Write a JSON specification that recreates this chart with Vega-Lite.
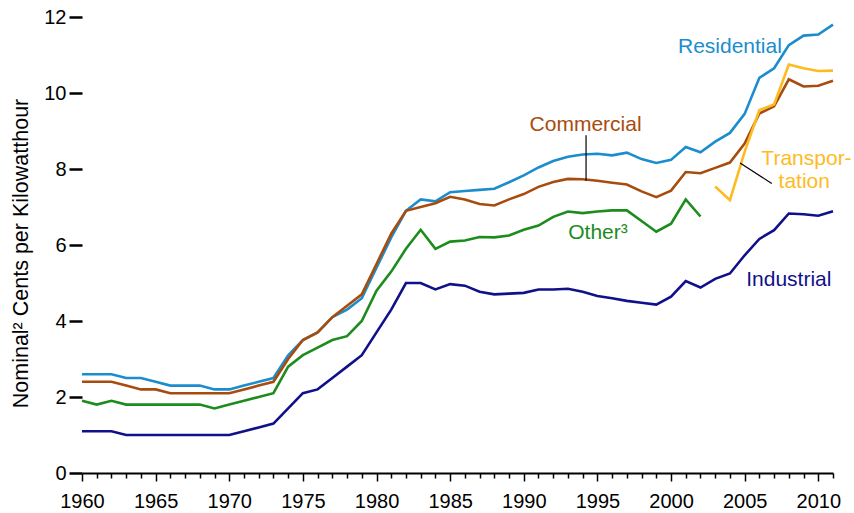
{
  "$schema": "https://vega.github.io/schema/vega-lite/v6.json",
  "width": 751,
  "height": 456,
  "autosize": "none",
  "padding": {"left": 82, "top": 17, "right": 21, "bottom": 40},
  "background": "white",
  "config": {"view": {"stroke": null}, "font": "Liberation Sans"},
  "datasets": {
    "prices": [
      {"year":1960,"sector":"Residential","value":2.6},{"year":1961,"sector":"Residential","value":2.6},{"year":1962,"sector":"Residential","value":2.6},{"year":1963,"sector":"Residential","value":2.5},{"year":1964,"sector":"Residential","value":2.5},{"year":1965,"sector":"Residential","value":2.4},{"year":1966,"sector":"Residential","value":2.3},{"year":1967,"sector":"Residential","value":2.3},{"year":1968,"sector":"Residential","value":2.3},{"year":1969,"sector":"Residential","value":2.2},{"year":1970,"sector":"Residential","value":2.2},{"year":1971,"sector":"Residential","value":2.3},{"year":1972,"sector":"Residential","value":2.4},{"year":1973,"sector":"Residential","value":2.5},{"year":1974,"sector":"Residential","value":3.1},{"year":1975,"sector":"Residential","value":3.5},{"year":1976,"sector":"Residential","value":3.7},{"year":1977,"sector":"Residential","value":4.1},{"year":1978,"sector":"Residential","value":4.3},{"year":1979,"sector":"Residential","value":4.6},{"year":1980,"sector":"Residential","value":5.4},{"year":1981,"sector":"Residential","value":6.2},{"year":1982,"sector":"Residential","value":6.9},{"year":1983,"sector":"Residential","value":7.2},{"year":1984,"sector":"Residential","value":7.15},{"year":1985,"sector":"Residential","value":7.39},{"year":1986,"sector":"Residential","value":7.42},{"year":1987,"sector":"Residential","value":7.45},{"year":1988,"sector":"Residential","value":7.48},{"year":1989,"sector":"Residential","value":7.65},{"year":1990,"sector":"Residential","value":7.83},{"year":1991,"sector":"Residential","value":8.04},{"year":1992,"sector":"Residential","value":8.21},{"year":1993,"sector":"Residential","value":8.32},{"year":1994,"sector":"Residential","value":8.38},{"year":1995,"sector":"Residential","value":8.4},{"year":1996,"sector":"Residential","value":8.36},{"year":1997,"sector":"Residential","value":8.43},{"year":1998,"sector":"Residential","value":8.26},{"year":1999,"sector":"Residential","value":8.16},{"year":2000,"sector":"Residential","value":8.24},{"year":2001,"sector":"Residential","value":8.58},{"year":2002,"sector":"Residential","value":8.44},{"year":2003,"sector":"Residential","value":8.72},{"year":2004,"sector":"Residential","value":8.95},{"year":2005,"sector":"Residential","value":9.45},{"year":2006,"sector":"Residential","value":10.4},{"year":2007,"sector":"Residential","value":10.65},{"year":2008,"sector":"Residential","value":11.26},{"year":2009,"sector":"Residential","value":11.51},{"year":2010,"sector":"Residential","value":11.54},{"year":2011,"sector":"Residential","value":11.8},
      {"year":1960,"sector":"Commercial","value":2.4},{"year":1961,"sector":"Commercial","value":2.4},{"year":1962,"sector":"Commercial","value":2.4},{"year":1963,"sector":"Commercial","value":2.3},{"year":1964,"sector":"Commercial","value":2.2},{"year":1965,"sector":"Commercial","value":2.2},{"year":1966,"sector":"Commercial","value":2.1},{"year":1967,"sector":"Commercial","value":2.1},{"year":1968,"sector":"Commercial","value":2.1},{"year":1969,"sector":"Commercial","value":2.1},{"year":1970,"sector":"Commercial","value":2.1},{"year":1971,"sector":"Commercial","value":2.2},{"year":1972,"sector":"Commercial","value":2.3},{"year":1973,"sector":"Commercial","value":2.4},{"year":1974,"sector":"Commercial","value":3.0},{"year":1975,"sector":"Commercial","value":3.5},{"year":1976,"sector":"Commercial","value":3.7},{"year":1977,"sector":"Commercial","value":4.1},{"year":1978,"sector":"Commercial","value":4.4},{"year":1979,"sector":"Commercial","value":4.7},{"year":1980,"sector":"Commercial","value":5.5},{"year":1981,"sector":"Commercial","value":6.3},{"year":1982,"sector":"Commercial","value":6.9},{"year":1983,"sector":"Commercial","value":7.0},{"year":1984,"sector":"Commercial","value":7.1},{"year":1985,"sector":"Commercial","value":7.27},{"year":1986,"sector":"Commercial","value":7.2},{"year":1987,"sector":"Commercial","value":7.08},{"year":1988,"sector":"Commercial","value":7.04},{"year":1989,"sector":"Commercial","value":7.2},{"year":1990,"sector":"Commercial","value":7.34},{"year":1991,"sector":"Commercial","value":7.53},{"year":1992,"sector":"Commercial","value":7.66},{"year":1993,"sector":"Commercial","value":7.74},{"year":1994,"sector":"Commercial","value":7.73},{"year":1995,"sector":"Commercial","value":7.69},{"year":1996,"sector":"Commercial","value":7.64},{"year":1997,"sector":"Commercial","value":7.59},{"year":1998,"sector":"Commercial","value":7.41},{"year":1999,"sector":"Commercial","value":7.26},{"year":2000,"sector":"Commercial","value":7.43},{"year":2001,"sector":"Commercial","value":7.92},{"year":2002,"sector":"Commercial","value":7.89},{"year":2003,"sector":"Commercial","value":8.03},{"year":2004,"sector":"Commercial","value":8.17},{"year":2005,"sector":"Commercial","value":8.67},{"year":2006,"sector":"Commercial","value":9.46},{"year":2007,"sector":"Commercial","value":9.65},{"year":2008,"sector":"Commercial","value":10.36},{"year":2009,"sector":"Commercial","value":10.17},{"year":2010,"sector":"Commercial","value":10.19},{"year":2011,"sector":"Commercial","value":10.32},
      {"year":1960,"sector":"Industrial","value":1.1},{"year":1961,"sector":"Industrial","value":1.1},{"year":1962,"sector":"Industrial","value":1.1},{"year":1963,"sector":"Industrial","value":1.0},{"year":1964,"sector":"Industrial","value":1.0},{"year":1965,"sector":"Industrial","value":1.0},{"year":1966,"sector":"Industrial","value":1.0},{"year":1967,"sector":"Industrial","value":1.0},{"year":1968,"sector":"Industrial","value":1.0},{"year":1969,"sector":"Industrial","value":1.0},{"year":1970,"sector":"Industrial","value":1.0},{"year":1971,"sector":"Industrial","value":1.1},{"year":1972,"sector":"Industrial","value":1.2},{"year":1973,"sector":"Industrial","value":1.3},{"year":1974,"sector":"Industrial","value":1.7},{"year":1975,"sector":"Industrial","value":2.1},{"year":1976,"sector":"Industrial","value":2.2},{"year":1977,"sector":"Industrial","value":2.5},{"year":1978,"sector":"Industrial","value":2.8},{"year":1979,"sector":"Industrial","value":3.1},{"year":1980,"sector":"Industrial","value":3.7},{"year":1981,"sector":"Industrial","value":4.3},{"year":1982,"sector":"Industrial","value":5.0},{"year":1983,"sector":"Industrial","value":5.0},{"year":1984,"sector":"Industrial","value":4.83},{"year":1985,"sector":"Industrial","value":4.97},{"year":1986,"sector":"Industrial","value":4.93},{"year":1987,"sector":"Industrial","value":4.77},{"year":1988,"sector":"Industrial","value":4.7},{"year":1989,"sector":"Industrial","value":4.72},{"year":1990,"sector":"Industrial","value":4.74},{"year":1991,"sector":"Industrial","value":4.83},{"year":1992,"sector":"Industrial","value":4.83},{"year":1993,"sector":"Industrial","value":4.85},{"year":1994,"sector":"Industrial","value":4.77},{"year":1995,"sector":"Industrial","value":4.66},{"year":1996,"sector":"Industrial","value":4.6},{"year":1997,"sector":"Industrial","value":4.53},{"year":1998,"sector":"Industrial","value":4.48},{"year":1999,"sector":"Industrial","value":4.43},{"year":2000,"sector":"Industrial","value":4.64},{"year":2001,"sector":"Industrial","value":5.05},{"year":2002,"sector":"Industrial","value":4.88},{"year":2003,"sector":"Industrial","value":5.11},{"year":2004,"sector":"Industrial","value":5.25},{"year":2005,"sector":"Industrial","value":5.73},{"year":2006,"sector":"Industrial","value":6.16},{"year":2007,"sector":"Industrial","value":6.39},{"year":2008,"sector":"Industrial","value":6.83},{"year":2009,"sector":"Industrial","value":6.81},{"year":2010,"sector":"Industrial","value":6.77},{"year":2011,"sector":"Industrial","value":6.89},
      {"year":1960,"sector":"Other","value":1.9},{"year":1961,"sector":"Other","value":1.8},{"year":1962,"sector":"Other","value":1.9},{"year":1963,"sector":"Other","value":1.8},{"year":1964,"sector":"Other","value":1.8},{"year":1965,"sector":"Other","value":1.8},{"year":1966,"sector":"Other","value":1.8},{"year":1967,"sector":"Other","value":1.8},{"year":1968,"sector":"Other","value":1.8},{"year":1969,"sector":"Other","value":1.7},{"year":1970,"sector":"Other","value":1.8},{"year":1971,"sector":"Other","value":1.9},{"year":1972,"sector":"Other","value":2.0},{"year":1973,"sector":"Other","value":2.1},{"year":1974,"sector":"Other","value":2.8},{"year":1975,"sector":"Other","value":3.1},{"year":1976,"sector":"Other","value":3.3},{"year":1977,"sector":"Other","value":3.5},{"year":1978,"sector":"Other","value":3.6},{"year":1979,"sector":"Other","value":4.0},{"year":1980,"sector":"Other","value":4.8},{"year":1981,"sector":"Other","value":5.3},{"year":1982,"sector":"Other","value":5.9},{"year":1983,"sector":"Other","value":6.4},{"year":1984,"sector":"Other","value":5.9},{"year":1985,"sector":"Other","value":6.09},{"year":1986,"sector":"Other","value":6.12},{"year":1987,"sector":"Other","value":6.21},{"year":1988,"sector":"Other","value":6.2},{"year":1989,"sector":"Other","value":6.25},{"year":1990,"sector":"Other","value":6.4},{"year":1991,"sector":"Other","value":6.51},{"year":1992,"sector":"Other","value":6.74},{"year":1993,"sector":"Other","value":6.88},{"year":1994,"sector":"Other","value":6.84},{"year":1995,"sector":"Other","value":6.88},{"year":1996,"sector":"Other","value":6.91},{"year":1997,"sector":"Other","value":6.91},{"year":1998,"sector":"Other","value":6.63},{"year":1999,"sector":"Other","value":6.35},{"year":2000,"sector":"Other","value":6.56},{"year":2001,"sector":"Other","value":7.2},{"year":2002,"sector":"Other","value":6.75},
      {"year":2003,"sector":"Transportation","value":7.54},{"year":2004,"sector":"Transportation","value":7.18},{"year":2005,"sector":"Transportation","value":8.45},{"year":2006,"sector":"Transportation","value":9.55},{"year":2007,"sector":"Transportation","value":9.7},{"year":2008,"sector":"Transportation","value":10.75},{"year":2009,"sector":"Transportation","value":10.65},{"year":2010,"sector":"Transportation","value":10.58},{"year":2011,"sector":"Transportation","value":10.59}
    ],
    "labels": [
      {"year":2004.0,"value":11.06,"sector":"Residential","text":"Residential"},
      {"year":1994.2,"value":9.01,"sector":"Commercial","text":"Commercial"},
      {"year":1995.04,"value":6.16,"sector":"Other","text":"Other³"},
      {"year":2008.0,"value":4.92,"sector":"Industrial","text":"Industrial"},
      {"year":2009.2,"value":8.11,"sector":"Transportation","text":"Transpor-"},
      {"year":2009.05,"value":7.49,"sector":"Transportation","text":"tation"}
    ],
    "leaders": [
      {"year":1994.23,"year2":1994.23,"value":8.89,"value2":7.69},
      {"year":2004.69,"year2":2006.84,"value":8.16,"value2":7.62}
    ]
  },
  "encoding": {
    "x": {
      "field": "year", "type": "quantitative",
      "scale": {"domain": [1960, 2011], "nice": false, "zero": false},
      "axis": {
        "values": [1960,1961,1962,1963,1964,1965,1966,1967,1968,1969,1970,1971,1972,1973,1974,1975,1976,1977,1978,1979,1980,1981,1982,1983,1984,1985,1986,1987,1988,1989,1990,1991,1992,1993,1994,1995,1996,1997,1998,1999,2000,2001,2002,2003,2004,2005,2006,2007,2008,2009,2010,2011],
        "format": "d",
        "labelExpr": "datum.value % 5 === 0 ? datum.label : ''",
        "labelOverlap": false,
        "labelFlush": false,
        "tickSize": {"condition": {"test": "datum.value % 5 === 0", "value": 8}, "value": 5},
        "tickColor": "black",
        "tickWidth": 1.5,
        "domainColor": "black",
        "domainWidth": 2,
        "labelColor": "black",
        "labelFont": "Liberation Sans",
        "labelFontSize": 20,
        "labelPadding": 10,
        "grid": false,
        "title": null
      }
    },
    "y": {
      "field": "value", "type": "quantitative",
      "scale": {"domain": [0, 12], "nice": false},
      "axis": {
        "values": [0,2,4,6,8,10,12],
        "domain": false,
        "tickSize": 13,
        "tickWidth": 2.5,
        "tickColor": "black",
        "labelColor": "black",
        "labelFont": "Liberation Sans",
        "labelFontSize": 20,
        "labelPadding": 3,
        "grid": false,
        "title": "Nominal² Cents per Kilowatthour",
        "titleFont": "Liberation Sans",
        "titleFontSize": 21.5,
        "titleFontWeight": "normal",
        "titleColor": "black",
        "titlePadding": 11,
        "titleY": 236
      }
    }
  },
  "layer": [
    {
      "data": {"name": "prices"},
      "mark": {"type": "line", "strokeWidth": 2.6, "clip": false},
      "encoding": {
        "color": {
          "field": "sector", "type": "nominal",
          "scale": {
            "domain": ["Residential","Commercial","Industrial","Other","Transportation"],
            "range": ["#1b8dcd","#a84c0e","#10118a","#1c8c1c","#fdbb1f"]
          },
          "legend": null
        }
      }
    },
    {
      "data": {"name": "leaders"},
      "mark": {"type": "rule", "color": "black", "strokeWidth": 1.2},
      "encoding": {
        "x2": {"field": "year2"},
        "y2": {"field": "value2"}
      }
    },
    {
      "data": {"name": "labels"},
      "mark": {"type": "text", "font": "Liberation Sans", "fontSize": 21, "align": "center", "baseline": "alphabetic"},
      "encoding": {
        "text": {"field": "text"},
        "color": {"field": "sector", "type": "nominal", "legend": null}
      }
    }
  ]
}
